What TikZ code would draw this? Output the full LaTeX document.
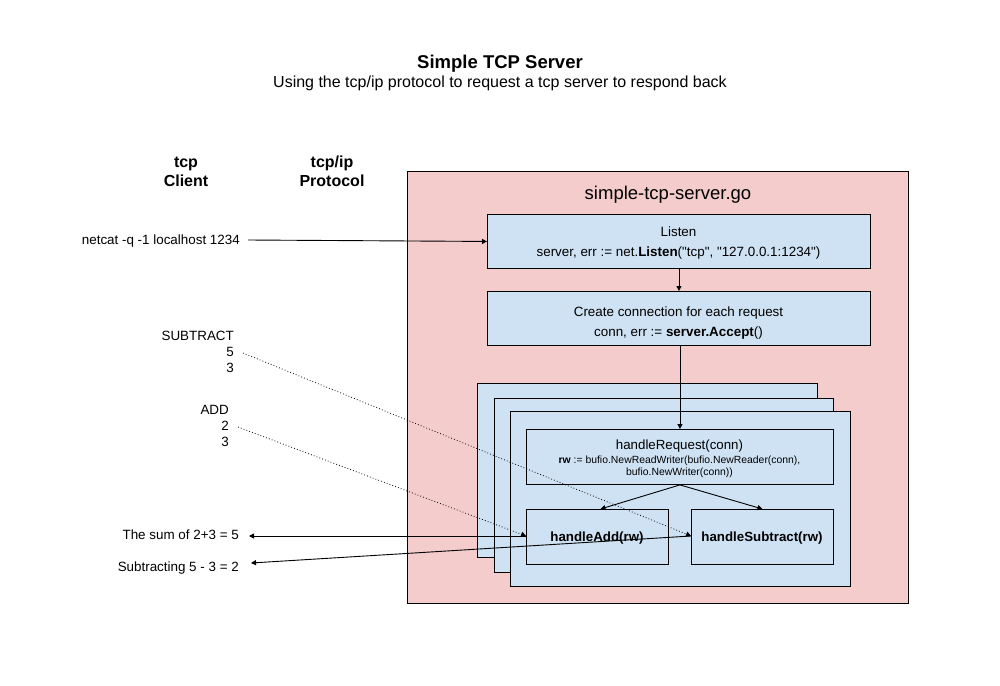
\documentclass[tikz,border=0pt]{standalone}
\usepackage{fontspec}
\setmainfont{Liberation Sans}
\newfontfamily\qfont{Liberation Sans}
\usetikzlibrary{arrows.meta}
\definecolor{pinkbg}{HTML}{F4CCCC}
\definecolor{bluebg}{HTML}{CFE2F3}
\newcommand{\sq}{{\qfont\char34}}
\begin{document}
\begin{tikzpicture}[x=1pt,y=-1pt,
  box/.style={draw=black, line width=0.9pt, fill=bluebg, inner sep=0pt, anchor=north west},
  body/.style={inner sep=0pt, font=\fontsize{13.4}{16}\selectfont, text height=9.6pt, text depth=0pt},
  bodyb/.style={body, font=\fontsize{13.3}{16}\selectfont\bfseries},
  small/.style={inner sep=0pt, font=\fontsize{10.4}{12}\selectfont, text height=7.5pt, text depth=0pt},
  head/.style={inner sep=0pt, font=\fontsize{16}{19}\selectfont\bfseries, text height=11.5pt, text depth=0pt},
  big/.style={inner sep=0pt, font=\fontsize{18.5}{22}\selectfont, text height=13.3pt, text depth=0pt},
  arr/.style={-{Triangle[length=5pt,width=5pt]}, line width=0.9pt},
  dotarr/.style={arr, line width=0.8pt, dash pattern=on 0.8pt off 2.2pt}
]
\useasboundingbox (0,0) rectangle (1000,685);
\fill[white] (0,0) rectangle (1000,685);

% titles
\node[big, font=\fontsize{18.5}{22}\selectfont\bfseries] (title) at (500,62) {Simple TCP Server};
\node[inner sep=0pt, font=\fontsize{16}{19}\selectfont, text height=11.5pt, text depth=0pt] (subtitle) at (500,82) {Using the tcp/ip protocol to request a tcp server to respond back};

\node[head] (h1a) at (186,162) {tcp};
\node[head] (h1b) at (186,181) {Client};
\node[head] (h2a) at (332,162) {tcp/ip};
\node[head] (h2b) at (332,181) {Protocol};

% server container
\node[draw=black, line width=0.9pt, fill=pinkbg, inner sep=0pt, anchor=north west,
      minimum width=501pt, minimum height=432pt] (server) at (407,171) {};
\node[big] (servertitle) at (668,193) {simple-tcp-server.go};

% listen & create
\node[box, minimum width=383pt, minimum height=54pt] (listen) at (487,214) {};
\node[body] (listen1) at (678.5,232) {Listen};
\node[body] (listen2) at (678.5,252) {server, err := net.\textbf{Listen}(\sq tcp\sq, \sq 127.0.0.1:1234\sq)};

\node[box, minimum width=383pt, minimum height=54pt] (create) at (487,291) {};
\node[body] (create1) at (678.5,312) {Create connection for each request};
\node[body] (create2) at (678.5,332) {conn, err := \textbf{server.Accept}()};

% stacked handler boxes
\node[box, minimum width=340pt, minimum height=174pt] (back1) at (477,383) {};
\node[box, minimum width=339pt, minimum height=174pt] (back2) at (494,398) {};
\node[box, minimum width=340pt, minimum height=175pt] (front) at (510,411) {};

\node[box, minimum width=307pt, minimum height=55pt] (req) at (526,429) {};
\node[inner sep=0pt, font=\fontsize{13.3}{16}\selectfont, text height=9.6pt, text depth=0pt] (req1) at (679.5,445) {handleRequest(conn)};
\node[small] (req2) at (679.5,460) {\textbf{rw} := bufio.NewReadWriter(bufio.NewReader(conn),};
\node[small] (req3) at (679.5,472) {bufio.NewWriter(conn))};

\node[box, minimum width=142pt, minimum height=55pt] (add) at (526,509) {};
\node[bodyb] (addt) at (597,537) {handleAdd(rw)};
\node[box, minimum width=142pt, minimum height=55pt] (sub) at (691,509) {};
\node[bodyb] (subt) at (762,537) {handleSubtract(rw)};

% left side texts
\node[body, anchor=east] (netcat) at (240,240) {netcat -q -1 localhost 1234};
\node[body, anchor=east] (subcmd) at (234,336) {SUBTRACT};
\node[body, anchor=east] (sub5) at (234,352) {5};
\node[body, anchor=east] (sub3) at (234,368) {3};
\node[body, anchor=east] (addcmd) at (229,410) {ADD};
\node[body, anchor=east] (add2) at (229,426) {2};
\node[body, anchor=east] (add3) at (229,442) {3};
\node[body, anchor=east] (sumres) at (239,535) {The sum of 2+3 = 5};
\node[body, anchor=east] (subres) at (239,567) {Subtracting 5 - 3 = 2};

\coordinate (netcatout) at (248,240);
\coordinate (sub5out) at (243,353);
\coordinate (add2out) at (238,427);
\coordinate (sumin) at (249,536);
\coordinate (subin) at (251,563);
\coordinate (addin) at (526,536);
\coordinate (subsrc) at (691,536);

% connectors
\draw[arr] (netcatout) -- (listen.west);
\draw[arr] (listen.south) -- (create.north);
\draw[arr] (create.south -| req.north) -- (req.north);
\draw[arr] (req.south) -- ([xshift=3pt]add.north);
\draw[arr] (req.south) -- (sub.north);

\draw[dotarr] (sub5out) -- (subsrc);
\draw[dotarr] (add2out) -- (addin);

\draw[arr] (addin) -- (sumin);
\draw[arr] (subsrc) -- (subin);
\end{tikzpicture}
\end{document}
